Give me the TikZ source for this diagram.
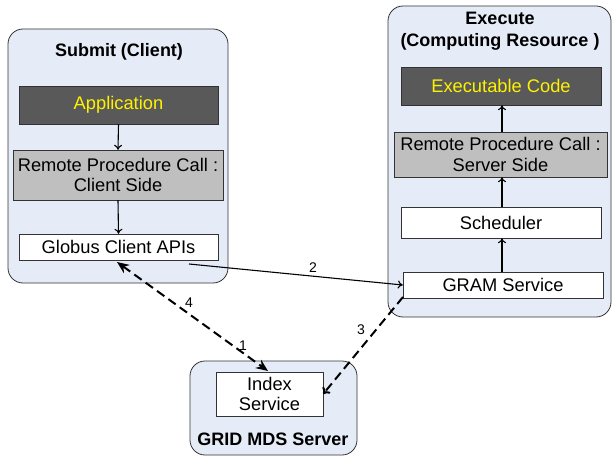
\documentclass[tikz,border=0pt]{standalone}
\usepackage{fontspec}
\setmainfont{Liberation Sans}
\usetikzlibrary{arrows.meta}
\definecolor{panel}{HTML}{E6ECF7}
\definecolor{darkbox}{HTML}{595959}
\definecolor{graybox}{HTML}{BFBFBF}
\begin{document}
\begin{tikzpicture}[x=1pt,y=-1pt,
  panelbox/.style={draw=black!80,fill=panel,rounded corners=15pt,line width=0.8pt},
  darkrect/.style={draw=black!80,fill=darkbox,text=yellow,font=\fontsize{18.3}{20.5}\selectfont},
  grayrect/.style={draw=black!80,fill=graybox,font=\fontsize{18.3}{20.5}\selectfont,align=center},
  whiterect/.style={draw=black!80,fill=white,font=\fontsize{18.3}{20.5}\selectfont,align=center},
  ttl/.style={font=\bfseries\fontsize{18}{22}\selectfont,align=center},
  thin/.style={-{To[length=5pt,width=8pt]},line width=1.1pt},
  dsh/.style={line width=2pt,dash pattern=on 9pt off 5pt},
  lbl/.style={font=\fontsize{14}{16}\selectfont}]
\useasboundingbox (0,0) rectangle (613,457);
% panels
\draw[panelbox] (8,29) rectangle (228,283);
\draw[panelbox] (388,6) rectangle (611,317);
\draw[panelbox] (190,361) rectangle (357,455);
% titles
\node[ttl] (tsub) at (119,52) {Submit (Client)};
\node[ttl] (texe) at (500,31) {Execute\\(Computing Resource )};
\node[ttl] (tmds) at (273,439) {GRID MDS Server};
% client boxes
\node[darkrect,minimum width=199pt,minimum height=38pt] (app) at (118.5,105) {Application};
\node[grayrect,minimum width=210pt,minimum height=50pt] (rpcc) at (118,175) {Remote Procedure Call :\\Client Side};
\node[whiterect,minimum width=199pt,minimum height=26pt] (glob) at (118.5,247) {Globus Client APIs};
% execute boxes
\node[darkrect,minimum width=200pt,minimum height=38pt] (exe) at (501,86) {Executable Code};
\node[grayrect,minimum width=213pt,minimum height=45pt] (rpcs) at (500.5,154.5) {Remote Procedure Call :\\Server Side};
\node[whiterect,minimum width=200pt,minimum height=31pt] (sch) at (501,222.5) {Scheduler};
\node[whiterect,minimum width=200pt,minimum height=26pt] (gram) at (503,285) {GRAM Service};
% index
\node[whiterect,minimum width=107pt,minimum height=44pt] (idx) at (269.5,394) {Index\\Service};
% arrows inside
\draw[thin] (app.south) -- (rpcc.north);
\draw[thin] (rpcc.south) -- (glob.north);
\draw[thin] (gram.north -| 502,0) -- (sch.south -| 502,0);
\draw[thin] (sch.north -| 502,0) -- (rpcs.south -| 502,0);
\draw[thin] (rpcs.north -| 502,0) -- (exe.south -| 502,0);
% connections
\coordinate (g2) at (189,264);
\draw[thin] (g2) -- node[lbl,above,pos=0.58] (l2) {2} (gram.west);
\coordinate (gA) at (117,262);
\coordinate (iA) at (268,371);
\draw[dsh,{Stealth[length=12pt,width=10pt]}-{Stealth[length=12pt,width=10pt]}] (gA) -- (iA);
\node[lbl] (l4) at (189,303) {4};
\node[lbl] (l1) at (243,346) {1};
\coordinate (gB) at (403,297);
\draw[dsh,-{To[length=6pt,width=10pt]}] (gB) -- (idx.east |- 0,394);
\node[lbl] (l3) at (361,330) {3};
\end{tikzpicture}
\end{document}
